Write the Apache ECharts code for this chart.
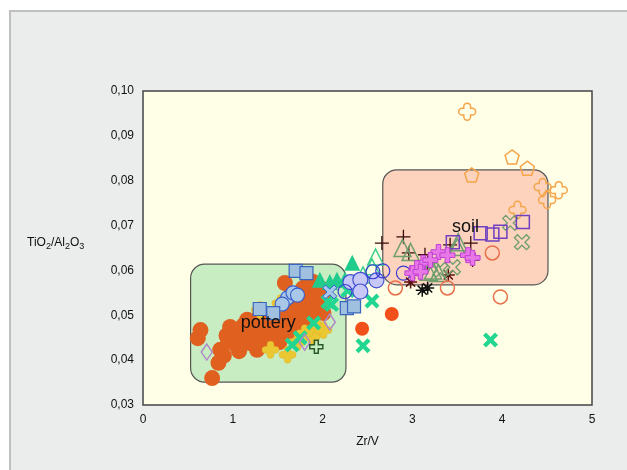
<!DOCTYPE html>
<html>
<head>
<meta charset="utf-8">
<script src="https://cdn.jsdelivr.net/npm/echarts@6/dist/echarts.min.js"></script>
<style>
  html, body { margin: 0; padding: 0; background: #ffffff; }
  #panel { position: absolute; left: 9px; top: 10px; width: 640px; height: 480px;
           background: #ebeded; border: 2px solid #bfbfbf; }
  #main { position: absolute; left: 0; top: 0; width: 627px; height: 470px; }
</style>
</head>
<body>
<div id="panel"></div>
<div id="main"></div>
<script>
// axis ticks
var xTicks = [0, 1, 2, 3, 4, 5];
var yTicks = [0.03, 0.04, 0.05, 0.06, 0.07, 0.08, 0.09, 0.10];

// group boxes [x1, y1, x2, y2]
var boxes = [[0.53, 0.0614, 2.26, 0.0351], [2.67, 0.0824, 4.51, 0.0568]];
var boxNames = ['pottery', 'soil'];
var boxColors = ['#c9edc2', '#fdd3bd'];

// samples, [Zr/V, TiO2/Al2O3]
var potteryCircles = [
  [0.64, 0.0467], [0.61, 0.0449], [0.77, 0.0360], [0.84, 0.0394], [0.86, 0.0423], [0.95, 0.0441],
  [0.97, 0.0474], [1.05, 0.0429], [1.10, 0.0463], [1.16, 0.0490], [1.19, 0.0438], [1.27, 0.0423],
  [1.30, 0.0452], [1.34, 0.0474], [1.42, 0.0496], [1.49, 0.0452], [1.56, 0.0467], [1.61, 0.0512],
  [1.64, 0.0490], [1.67, 0.0519], [1.72, 0.0534], [1.75, 0.0505], [1.78, 0.0550], [1.83, 0.0519],
  [1.86, 0.0563], [1.88, 0.0539], [1.90, 0.0505], [1.94, 0.0550], [1.97, 0.0527], [1.58, 0.0572],
  [2.01, 0.0505], [1.84, 0.0572], [1.92, 0.0519], [1.95, 0.0539], [1.67, 0.0505], [1.00, 0.0460],
  [1.20, 0.0470], [1.25, 0.0450], [1.40, 0.0460], [1.45, 0.0480], [1.50, 0.0490], [1.55, 0.0500],
  [0.90, 0.0410], [1.10, 0.0440], [1.35, 0.0440], [1.60, 0.0480], [1.70, 0.0490], [1.80, 0.0530],
  [1.02, 0.0445], [1.15, 0.0455], [1.22, 0.0485], [1.38, 0.0455], [1.48, 0.0470], [1.52, 0.0440],
  [1.63, 0.0465], [1.74, 0.0475], [1.82, 0.0490], [1.98, 0.0560], [2.03, 0.0545], [1.89, 0.0575],
  [1.78, 0.0560], [1.12, 0.0478], [1.28, 0.0492], [0.93, 0.0455], [1.07, 0.0420], [1.45, 0.0445]
];
var redCircles = [[2.77, 0.0503], [2.44, 0.0470]];
var yellowCrosses = [[1.30, 0.0512], [1.42, 0.0423], [1.61, 0.0412], [1.94, 0.0472], [1.88, 0.0452],
  [2.01, 0.0467], [1.53, 0.0527], [1.72, 0.0440], [1.80, 0.0460]];
var orangeCrosses = [[3.61, 0.0954], [4.45, 0.0786], [4.63, 0.0779], [4.50, 0.0757], [4.17, 0.0735]];
var orangePentagons = [[4.11, 0.0853], [4.28, 0.0828], [3.66, 0.0813]];
var greenTriangles = [[2.33, 0.0617], [2.08, 0.0574], [1.97, 0.0579], [2.16, 0.0579], [2.25, 0.0580]];
var greenTrianglesOpen = [[2.59, 0.0630], [2.55, 0.0608], [2.45, 0.0590]];
var greenX = [[1.66, 0.0434], [1.90, 0.0483], [2.06, 0.0530], [2.10, 0.0524], [2.55, 0.0532],
  [2.45, 0.0432], [3.87, 0.0445], [1.75, 0.0450], [2.28, 0.0555]];
var blueCircles = [[1.61, 0.0539], [1.67, 0.0550], [1.55, 0.0525], [1.72, 0.0545]];
var lavenderCircles = [[2.31, 0.0574], [2.42, 0.0579], [2.42, 0.0553], [2.60, 0.0578]];
var blueCirclesOpen = [[2.56, 0.0597], [2.67, 0.0599], [2.25, 0.0553], [2.90, 0.0594]];
var blueSquares = [[1.70, 0.0599], [1.82, 0.0594], [1.30, 0.0514], [1.45, 0.0505], [2.27, 0.0516], [2.35, 0.0520]];
var blueX = [[2.08, 0.0552]];
var purpleDiamonds = [[0.71, 0.0418], [2.08, 0.0485], [1.80, 0.0440]];
var darkGreenPlus = [[1.93, 0.0430]];
var blackPlus = [[2.66, 0.0661], [2.90, 0.0675], [2.96, 0.0639], [3.14, 0.0635], [3.17, 0.0617],
  [3.42, 0.0657], [3.65, 0.0661], [3.67, 0.0623]];
var blackStars = [[3.11, 0.0556], [3.17, 0.0561]];
var brownStars = [[3.40, 0.0590], [2.98, 0.0574]];
var grayTriangles = [[2.89, 0.0650], [2.98, 0.0641], [3.18, 0.0597], [3.23, 0.0600], [3.29, 0.0594],
  [3.50, 0.0652], [3.51, 0.0663]];
var grayX = [[4.09, 0.0706], [4.22, 0.0663], [3.31, 0.0601], [3.45, 0.0607]];
var purpleSquares = [[3.45, 0.0663], [3.76, 0.0683], [3.89, 0.0680], [3.98, 0.0686], [4.23, 0.0708]];
var magentaCrosses = [[3.29, 0.0641], [3.39, 0.0634], [3.62, 0.0634], [3.67, 0.0628], [3.12, 0.0617],
  [3.05, 0.0605], [3.20, 0.0623], [3.00, 0.0594], [3.09, 0.0597]];
var orangeCirclesOpen = [[2.81, 0.0561], [3.39, 0.0561], [3.98, 0.0541], [3.89, 0.0639]];

var FONT = '"Liberation Sans", Arial, sans-serif';
var xPath = 'path://M0,2 L2,0 L5,3 L8,0 L10,2 L7,5 L10,8 L8,10 L5,7 L2,10 L0,8 L3,5 Z';
var roundPlus = 'path://M3,2 A2,2 0 0 1 7,2 V3 H8 A2,2 0 0 1 8,7 H7 V8 A2,2 0 0 1 3,8 V7 H2 A2,2 0 0 1 2,3 H3 Z';
var plusPath = 'path://M3.5,0 H6.5 V3.5 H10 V6.5 H6.5 V10 H3.5 V6.5 H0 V3.5 H3.5 Z';
var pentagon = 'path://M5,0 L10,3.8 L8.1,10 L1.9,10 L0,3.8 Z';
var thinPlus = 'path://M5,0 V10 M0,5 H10';
var starPath = 'path://M5,0 V10 M0,5 H10 M1.5,1.5 L8.5,8.5 M8.5,1.5 L1.5,8.5';

function sc(data, symbol, size, fill, stroke, width) {
  return {
    type: 'scatter', data: data, symbol: symbol, symbolSize: size, z: 3,
    itemStyle: { color: fill, borderColor: stroke || fill, borderWidth: width || 0, opacity: 1 }
  };
}

var chart = echarts.init(document.getElementById('main'));
chart.setOption({
  animation: false,
  grid: { left: 143, right: 35, top: 91, bottom: 65, show: true,
          backgroundColor: '#fffee6', borderColor: '#444', borderWidth: 1.5 },
  xAxis: {
    type: 'value', min: 0, max: 5, interval: 1,
    name: 'Zr/V', nameLocation: 'middle', nameGap: 31,
    nameTextStyle: { fontFamily: FONT, fontSize: 12, color: '#111' },
    axisLine: { show: false }, axisTick: { show: false }, splitLine: { show: false },
    axisLabel: { fontFamily: FONT, fontSize: 12, color: '#111', margin: 9 }
  },
  yAxis: {
    type: 'value', min: 0.03, max: 0.10, interval: 0.01,
    axisLine: { show: false }, axisTick: { show: false }, splitLine: { show: false },
    axisLabel: { fontFamily: FONT, fontSize: 12, color: '#111', margin: 9,
      formatter: function (v) { return v.toFixed(2).replace('.', ','); } }
  },
  graphic: [{
    type: 'text', left: 27, top: 237,
    style: {
      text: '{a|TiO}{s|2}{a|/Al}{s|2}{a|O}{s|3}',
      rich: {
        a: { fontFamily: FONT, fontSize: 12, fill: '#111', color: '#111' },
        s: { fontFamily: FONT, fontSize: 9, fill: '#111', color: '#111', padding: [7, 0, 0, 0] }
      }
    }
  }],
  series: [
    {
      type: 'custom', z: 1, silent: true,
      data: boxes,
      renderItem: function (params, api) {
        var p1 = api.coord([api.value(0), api.value(1)]);
        var p2 = api.coord([api.value(2), api.value(3)]);
        return {
          type: 'rect',
          shape: { x: p1[0], y: p1[1], width: p2[0] - p1[0], height: p2[1] - p1[1], r: 14 },
          style: { fill: boxColors[params.dataIndex], stroke: '#555', lineWidth: 1.2 }
        };
      }
    },
    sc(potteryCircles, 'circle', 16, '#e0601f'),
    sc(redCircles, 'circle', 14, '#f2501a'),
    sc(yellowCrosses, roundPlus, 17, '#ebc732', '#e0b52c', 0.5),
    sc(orangeCrosses, roundPlus, 17, 'transparent', '#f5a54a', 1.5),
    sc(orangePentagons, pentagon, 14, 'transparent', '#f5a54a', 1.5),
    sc(greenTriangles, 'triangle', 16, '#20cc8c'),
    sc(greenTrianglesOpen, 'triangle', 16, 'transparent', '#3ccf8e', 1.5),
    sc(greenX, xPath, 15, '#22d692'),
    sc(blueCircles, 'circle', 14, '#a9c8e8', '#3a5fcc', 1.2),
    sc(lavenderCircles, 'circle', 15, '#c8c8f8', '#4050d0', 1.2),
    sc(blueCirclesOpen, 'circle', 14, 'transparent', '#3a3ad0', 1.2),
    sc(blueSquares, 'rect', 13, '#a0c0e0', '#3a66c0', 1.2),
    sc(blueX, xPath, 14, '#a8c8ec', '#3366cc', 1),
    sc(purpleDiamonds, 'diamond', [11, 16], 'transparent', '#b088c8', 1.5),
    sc(darkGreenPlus, plusPath, 13, 'transparent', '#2a5a2a', 1.5),
    sc(blackPlus, thinPlus, 14, 'transparent', '#3a0a0a', 1.3),
    sc(blackStars, starPath, 13, 'transparent', '#111', 1.5),
    sc(brownStars, starPath, 13, 'transparent', '#5a1010', 1.5),
    sc(grayTriangles, 'triangle', 17, 'transparent', '#6e9e6e', 1.5),
    sc(grayX, xPath, 15, 'transparent', '#6e9e6e', 1.3),
    sc(purpleSquares, 'rect', 13, 'transparent', '#7040c0', 1.5),
    sc(magentaCrosses, plusPath, 15, '#e878e8', '#c040d0', 1),
    sc(orangeCirclesOpen, 'circle', 14, 'transparent', '#e8704a', 1.5),
    {
      type: 'custom', z: 10, silent: true,
      data: boxes,
      renderItem: function (params, api) {
        var c = api.coord([(api.value(0) + api.value(2)) / 2, (api.value(1) + api.value(3)) / 2]);
        return {
          type: 'text', x: c[0], y: c[1],
          style: { text: boxNames[params.dataIndex], fontFamily: FONT, fontSize: 18,
                   fill: '#111', align: 'center', verticalAlign: 'middle' }
        };
      }
    }
  ]
});
</script>
</body>
</html>
